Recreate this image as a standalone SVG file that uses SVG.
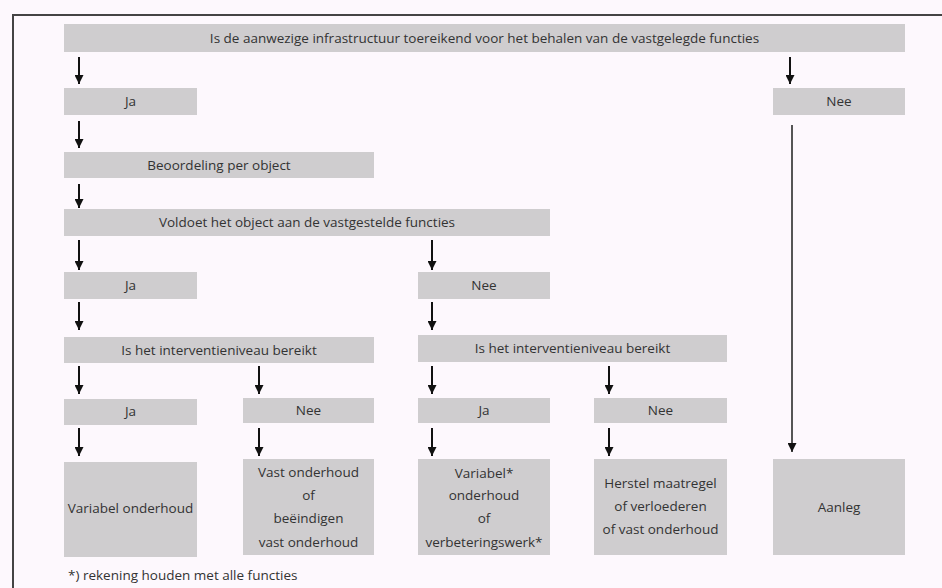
<svg xmlns="http://www.w3.org/2000/svg" width="942" height="588" viewBox="0 0 942 588">
<style>
.bg{fill:#fdf8fd}
.box{fill:#cfcdcf}
.t{font-family:"Open Sans","Liberation Sans",sans-serif;font-size:13.5px;fill:#333;text-anchor:middle}
.tb{font-family:"Open Sans","Liberation Sans",sans-serif;font-size:13.5px;fill:#333;text-anchor:middle}
.arr{stroke:#111;stroke-width:2;fill:none;marker-end:url(#ah)}
.long{stroke:#555;stroke-width:2;fill:none;marker-end:url(#ah)}
.frame{stroke:#444;stroke-width:2;fill:none}
</style>
<defs>
<marker id="ah" viewBox="0 0 10 10" refX="10" refY="5" markerWidth="13" markerHeight="9" markerUnits="userSpaceOnUse" orient="auto">
<path d="M0,0 L10,5 L0,10 z" fill="#111"/>
</marker>
</defs>
<rect class="bg" x="0" y="0" width="942" height="588"/>
<path class="frame" d="M13,588 L13,15 L942,15"/>

<g id="q1"><rect class="box" x="64" y="24" width="841" height="28"/><text class="t" x="484.5" y="43">Is de aanwezige infrastructuur toereikend voor het behalen van de vastgelegde functies</text></g>
<g id="ja1"><rect class="box" x="64" y="88" width="133" height="27"/><text class="t" x="130.5" y="106">Ja</text></g>
<g id="nee1"><rect class="box" x="773" y="88" width="132" height="27"/><text class="t" x="839" y="106">Nee</text></g>
<g id="beoordeling"><rect class="box" x="64" y="152" width="310" height="26"/><text class="t" x="219" y="170">Beoordeling per object</text></g>
<g id="q2"><rect class="box" x="64" y="209" width="486" height="27"/><text class="t" x="307" y="227">Voldoet het object aan de vastgestelde functies</text></g>
<g id="ja2"><rect class="box" x="64" y="272" width="133" height="27"/><text class="t" x="130.5" y="290">Ja</text></g>
<g id="nee2"><rect class="box" x="418" y="272" width="132" height="27"/><text class="t" x="484" y="290">Nee</text></g>
<g id="q3a"><rect class="box" x="64" y="337" width="310" height="26"/><text class="t" x="219" y="355">Is het interventieniveau bereikt</text></g>
<g id="q3b"><rect class="box" x="418" y="335" width="309" height="27"/><text class="t" x="572.5" y="353">Is het interventieniveau bereikt</text></g>
<g id="ja3a"><rect class="box" x="64" y="399" width="133" height="26"/><text class="t" x="130.5" y="416">Ja</text></g>
<g id="nee3a"><rect class="box" x="243" y="398" width="131" height="25"/><text class="t" x="308.5" y="415">Nee</text></g>
<g id="ja3b"><rect class="box" x="418" y="398" width="132" height="25"/><text class="t" x="484" y="415">Ja</text></g>
<g id="nee3b"><rect class="box" x="594" y="398" width="133" height="25"/><text class="t" x="660.5" y="415">Nee</text></g>
<g id="r1"><rect class="box" x="64" y="462" width="133" height="95"/><text class="tb" x="130.5" y="513">Variabel onderhoud</text></g>
<g id="r2"><rect class="box" x="243" y="459" width="131" height="96"/><text class="tb" x="308.5"><tspan x="308.5" y="477">Vast onderhoud</tspan><tspan x="308.5" y="500">of</tspan><tspan x="308.5" y="523">beëindigen</tspan><tspan x="308.5" y="547">vast onderhoud</tspan></text></g>
<g id="r3"><rect class="box" x="418" y="459" width="132" height="96"/><text class="tb" x="484"><tspan x="484" y="478">Variabel*</tspan><tspan x="484" y="500">onderhoud</tspan><tspan x="484" y="523">of</tspan><tspan x="484" y="547">verbeteringswerk*</tspan></text></g>
<g id="r4"><rect class="box" x="594" y="459" width="133" height="96"/><text class="tb" x="660.5"><tspan x="660.5" y="488">Herstel maatregel</tspan><tspan x="660.5" y="511">of verloederen</tspan><tspan x="660.5" y="534">of vast onderhoud</tspan></text></g>
<g id="r5"><rect class="box" x="773" y="459" width="132" height="96"/><text class="tb" x="839" y="512">Aanleg</text></g>

<g id="connectors">
<line class="arr" x1="79" y1="57" x2="79" y2="84"/>
<line class="arr" x1="790" y1="57" x2="790" y2="84"/>
<line class="arr" x1="79" y1="121" x2="79" y2="148"/>
<line class="arr" x1="79" y1="184" x2="79" y2="208"/>
<line class="arr" x1="79" y1="240" x2="79" y2="270"/>
<line class="arr" x1="432" y1="240" x2="432" y2="270"/>
<line class="arr" x1="79" y1="302" x2="79" y2="330"/>
<line class="arr" x1="432" y1="302" x2="432" y2="330"/>
<line class="arr" x1="79" y1="366" x2="79" y2="394"/>
<line class="arr" x1="259" y1="366" x2="259" y2="394"/>
<line class="arr" x1="432" y1="366" x2="432" y2="394"/>
<line class="arr" x1="609" y1="366" x2="609" y2="394"/>
<line class="arr" x1="79" y1="428" x2="79" y2="456"/>
<line class="arr" x1="259" y1="428" x2="259" y2="456"/>
<line class="arr" x1="432" y1="428" x2="432" y2="456"/>
<line class="arr" x1="609" y1="428" x2="609" y2="456"/>
<line class="long" x1="792" y1="125" x2="792" y2="452"/>
</g>

<text class="t" x="68" y="580" style="text-anchor:start">*) rekening houden met alle functies</text>
</svg>
